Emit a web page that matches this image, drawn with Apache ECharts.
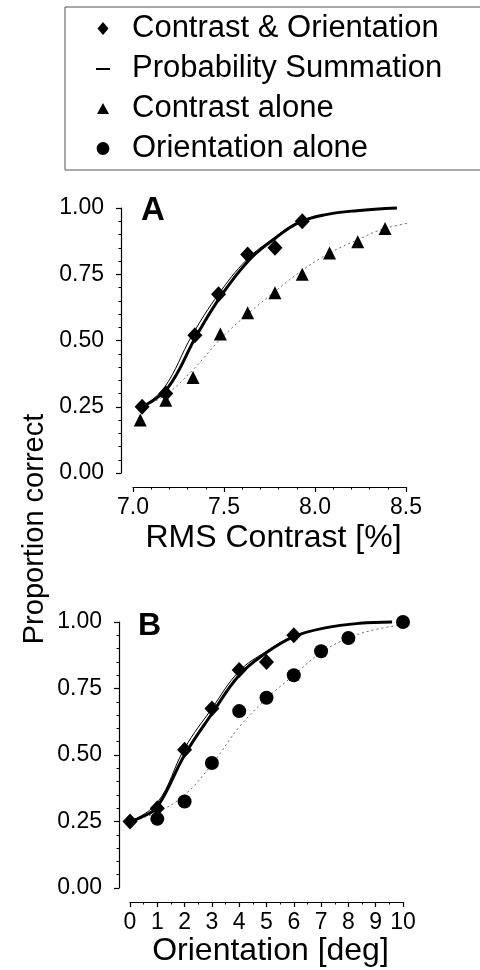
<!DOCTYPE html>
<html><head><meta charset="utf-8">
<script src="https://cdn.jsdelivr.net/npm/echarts@6/dist/echarts.min.js"></script>
<style>html,body{margin:0;padding:0;background:#fff}#c{width:480px;height:970px}</style>
</head><body><div id="c"></div>
<script>
// ---------- data ----------
const legendLabels = ['Contrast & Orientation', 'Probability Summation', 'Contrast alone', 'Orientation alone'];
const panelLabels = ['A', 'B'];
const yTitle = 'Proportion correct';
const xTitles = ['RMS Contrast [%]', 'Orientation [deg]'];

// Panel A (RMS contrast)
const aComboX = [7.05, 7.18, 7.34, 7.47, 7.63, 7.78, 7.93];
const aComboY = [0.25, 0.30, 0.52, 0.675, 0.825, 0.85, 0.95];
const aContrastX = [7.04, 7.18, 7.33, 7.48, 7.63, 7.78, 7.93, 8.08, 8.235, 8.385];
const aContrastY = [0.20, 0.275, 0.36, 0.525, 0.605, 0.68, 0.75, 0.83, 0.873, 0.923];
const aFitComboX = [7.05, 7.19, 7.35, 7.49, 7.64, 7.78, 7.91, 8.06, 8.23, 8.45];
const aFitComboY = [0.25, 0.32, 0.52, 0.675, 0.805, 0.885, 0.945, 0.975, 0.99, 1.0];
const aProbSumX = [7.05, 7.17, 7.325, 7.47, 7.625, 7.77, 7.905, 8.06, 8.23, 8.45];
const aProbSumY = [0.25, 0.32, 0.52, 0.675, 0.805, 0.885, 0.945, 0.975, 0.99, 1.0];
const aFitContrastX = [7.05, 7.18, 7.33, 7.48, 7.63, 7.78, 7.93, 8.08, 8.24, 8.385, 8.61];
const aFitContrastY = [0.25, 0.295, 0.39, 0.505, 0.60, 0.685, 0.765, 0.83, 0.882, 0.923, 0.955];

// Panel B (orientation)
const bComboX = [0, 1, 2, 3, 4, 5, 6];
const bComboY = [0.25, 0.30, 0.52, 0.675, 0.82, 0.85, 0.95];
const bOrientX = [1, 2, 3, 4, 5, 6, 7, 8, 10];
const bOrientY = [0.26, 0.325, 0.47, 0.665, 0.715, 0.80, 0.89, 0.94, 1.0];
const bFitComboX = [0, 0.4, 1, 2, 3, 4, 5, 6, 7.15, 8.4, 9.6];
const bFitComboY = [0.25, 0.265, 0.305, 0.50, 0.655, 0.80, 0.885, 0.945, 0.978, 0.995, 1.0];
const bProbSumX = [0, 1, 2, 3, 4, 5, 6, 7.15, 8.4, 9.6];
const bProbSumY = [0.25, 0.32, 0.525, 0.675, 0.815, 0.89, 0.947, 0.978, 0.995, 1.0];
const bFitOrientX = [0, 1, 2, 3, 4, 5, 6, 7, 8, 9, 10];
const bFitOrientY = [0.25, 0.285, 0.35, 0.465, 0.605, 0.712, 0.80, 0.885, 0.94, 0.972, 0.99];

const zip = (xs, ys) => xs.map((x, i) => [x, ys[i]]);

// ---------- chart ----------
const FONT = "'Liberation Sans', Arial, Helvetica, sans-serif";
const INK = '#000';
const chart = echarts.init(document.getElementById('c'), null, {renderer: 'canvas'});

// legend icon shapes inside a 26x13 box (tiny corner specks fix the box size)
const BOX = 'M0,0L0.01,0L0.01,0.01Z M25.99,12.99L26,12.99L26,13Z ';
const ICON_DIAMOND = 'path://' + BOX + 'M13,0L18.5,6.5L13,13L7.5,6.5Z';
const ICON_DASH = 'path://' + BOX + 'M6,6L20,6L20,8L6,8Z';
const ICON_TRIANGLE = 'path://' + BOX + 'M13,1L19,12L7,12Z';
const ICON_CIRCLE = 'path://' + BOX + 'M6.6,6.5A6.4,6.4 0 1,0 19.4,6.5A6.4,6.4 0 1,0 6.6,6.5Z';

function yAxisCfg(grid, offset) {
  return {
    gridIndex: grid, type: 'value', min: 0, max: 1, interval: 0.25, offset: offset,
    axisLine: {show: true, onZero: false, lineStyle: {color: INK, width: 1.2}},
    axisTick: {show: true, length: 5, lineStyle: {color: INK, width: 1.2}},
    minorTick: {show: true, splitNumber: 5, length: 2.5, lineStyle: {color: INK, width: 1}},
    splitLine: {show: false}, minorSplitLine: {show: false},
    axisLabel: {fontSize: 23, color: INK, fontFamily: FONT, margin: 17, showMinLabel: true, showMaxLabel: true,
      formatter: v => v.toFixed(2)}
  };
}
function xAxisCfg(grid, min, max, interval, minorSplit, dec, name, gap) {
  return {
    gridIndex: grid, type: 'value', min: min, max: max, interval: interval, offset: 14,
    axisLine: {show: true, onZero: false, lineStyle: {color: INK, width: 1.2}},
    axisTick: {show: true, length: 5, lineStyle: {color: INK, width: 1.2}},
    minorTick: {show: true, splitNumber: minorSplit, length: 2.5, lineStyle: {color: INK, width: 1}},
    splitLine: {show: false}, minorSplitLine: {show: false},
    axisLabel: {fontSize: 23, color: INK, fontFamily: FONT, margin: 9, showMinLabel: true, showMaxLabel: true,
      hideOverlap: false, formatter: v => v.toFixed(dec)},
    name: name, nameLocation: 'middle', nameGap: gap,
    nameTextStyle: {fontSize: 32, color: INK, fontFamily: FONT, padding: [0, 0, 0, 8]}
  };
}

const scatterBase = {type: 'scatter', itemStyle: {color: '#000', opacity: 1}, z: 6, silent: true};
const lineBase = {type: 'line', symbol: 'none', showSymbol: false, smooth: 0.4, silent: true, clip: false};

const option = {
  animation: false,
  backgroundColor: '#fff',
  textStyle: {fontFamily: FONT, color: INK},
  grid: [
    {left: 133, right: 74, top: 208, height: 265, containLabel: false, outerBoundsMode: 'none'},
    {left: 130, right: 77, top: 622, height: 266, containLabel: false, outerBoundsMode: 'none'}
  ],
  xAxis: [
    xAxisCfg(0, 7, 8.5, 0.5, 5, 1, xTitles[0], 35),
    xAxisCfg(1, 0, 10, 1, 2, 0, xTitles[1], 33)
  ],
  yAxis: [yAxisCfg(0, 12), yAxisCfg(1, 11)],
  legend: {
    show: true, orient: 'vertical', left: 65, top: 7,
    padding: [6, 80, 6, 25], itemGap: 9, itemWidth: 26, itemHeight: 13,
    borderColor: '#555', borderWidth: 1, selectedMode: false,
    textStyle: {fontSize: 31, color: INK, fontFamily: FONT, lineHeight: 31, padding: [0, 0, 0, 11]},
    data: [
      {name: legendLabels[0], icon: ICON_DIAMOND, itemStyle: {color: '#000', opacity: 1}},
      {name: legendLabels[1], icon: ICON_DASH, itemStyle: {color: '#000', opacity: 1}},
      {name: legendLabels[2], icon: ICON_TRIANGLE, itemStyle: {color: '#000', opacity: 1}},
      {name: legendLabels[3], icon: ICON_CIRCLE, itemStyle: {color: '#000', opacity: 1}}
    ]
  },
  graphic: [
    {type: 'text', x: 141, y: 211, silent: true,
      style: {text: panelLabels[0], font: 'bold 33px ' + FONT, fill: '#000', textAlign: 'left', textVerticalAlign: 'middle', verticalAlign: 'middle'}},
    {type: 'text', x: 138, y: 626, silent: true,
      style: {text: panelLabels[1], font: 'bold 32px ' + FONT, fill: '#000', textAlign: 'left', textVerticalAlign: 'middle', verticalAlign: 'middle'}},
    {type: 'text', x: 35, y: 529, rotation: Math.PI / 2, silent: true,
      style: {text: yTitle, font: '29px ' + FONT, fill: INK, textAlign: 'center', textVerticalAlign: 'middle', verticalAlign: 'middle'}}
  ],
  series: [
    // legend entry for the probability-summation prediction (the curves are drawn below)
    Object.assign({}, scatterBase, {name: legendLabels[1], xAxisIndex: 0, yAxisIndex: 0, data: []}),
    // Panel A
    Object.assign({}, lineBase, {name: 'fitContrastA', xAxisIndex: 0, yAxisIndex: 0, data: zip(aFitContrastX, aFitContrastY),
      lineStyle: {color: '#666', width: 1, type: [2, 3]}, z: 2}),
    Object.assign({}, lineBase, {name: 'fitComboA', xAxisIndex: 0, yAxisIndex: 0, data: zip(aFitComboX, aFitComboY),
      lineStyle: {color: '#000', width: 3}, z: 3}),
    Object.assign({}, lineBase, {name: 'probSumA', xAxisIndex: 0, yAxisIndex: 0, data: zip(aProbSumX, aProbSumY),
      lineStyle: {color: '#000', width: 1}, z: 4}),
    Object.assign({}, scatterBase, {name: legendLabels[2], xAxisIndex: 0, yAxisIndex: 0, data: zip(aContrastX, aContrastY),
      symbol: 'triangle', symbolSize: 13}),
    Object.assign({}, scatterBase, {name: legendLabels[0], xAxisIndex: 0, yAxisIndex: 0, data: zip(aComboX, aComboY),
      symbol: 'diamond', symbolSize: [15, 16], z: 7}),
    // Panel B
    Object.assign({}, lineBase, {name: 'fitOrientB', xAxisIndex: 1, yAxisIndex: 1, data: zip(bFitOrientX, bFitOrientY),
      lineStyle: {color: '#666', width: 1, type: [2, 3]}, z: 2}),
    Object.assign({}, lineBase, {name: 'fitComboB', xAxisIndex: 1, yAxisIndex: 1, data: zip(bFitComboX, bFitComboY),
      lineStyle: {color: '#000', width: 3}, z: 3}),
    Object.assign({}, lineBase, {name: 'probSumB', xAxisIndex: 1, yAxisIndex: 1, data: zip(bProbSumX, bProbSumY),
      lineStyle: {color: '#000', width: 1}, z: 4}),
    Object.assign({}, scatterBase, {name: legendLabels[3], xAxisIndex: 1, yAxisIndex: 1, data: zip(bOrientX, bOrientY),
      symbol: 'circle', symbolSize: 14}),
    Object.assign({}, scatterBase, {name: legendLabels[0], xAxisIndex: 1, yAxisIndex: 1, data: zip(bComboX, bComboY),
      symbol: 'diamond', symbolSize: [15, 16], z: 7})
  ]
};
chart.setOption(option);
</script></body></html>
